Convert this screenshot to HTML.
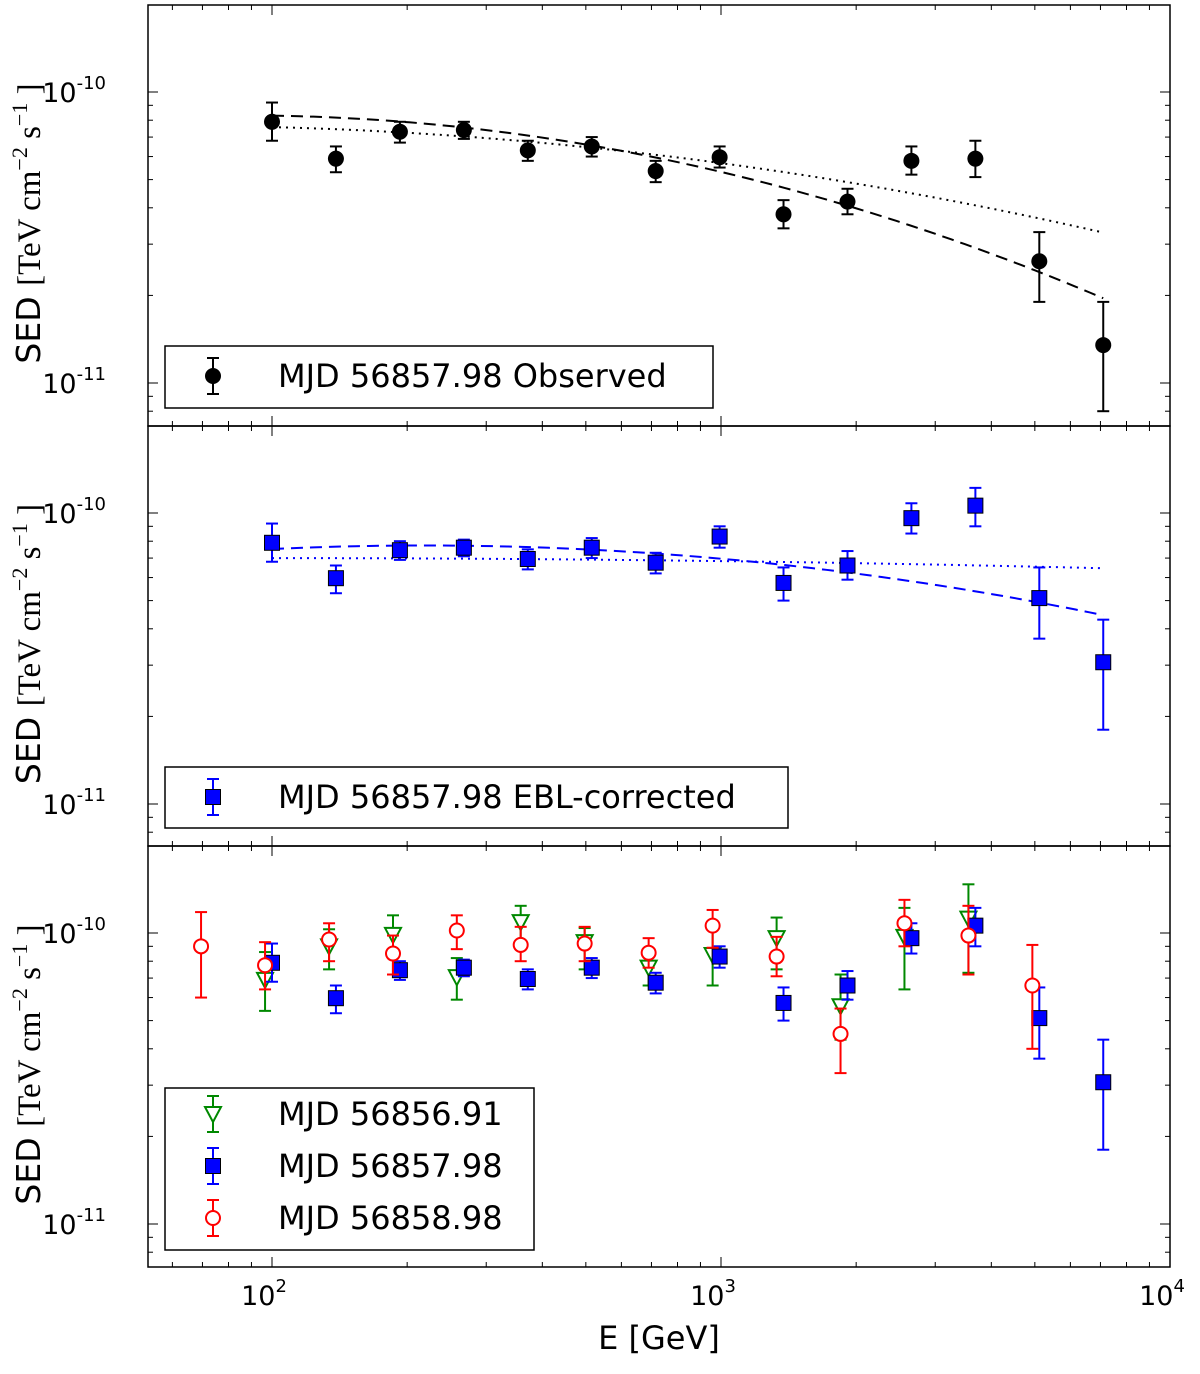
<!DOCTYPE html>
<html><head><meta charset="utf-8"><style>
html,body{margin:0;padding:0;background:#fff}
svg text{font-family:"DejaVu Sans","Liberation Sans",sans-serif}
</style></head><body>
<svg id="c" width="1200" height="1369" viewBox="0 0 1200 1369" xmlns="http://www.w3.org/2000/svg"></svg>
<script>
// ---- data ----
const eBlue = [100,138.8,192.7,267.5,371.3,515.4,715.4,993,1378,1913,2655,3686,5116,7101];
const obsVal = [7.9,5.9,7.3,7.4,6.3,6.5,5.35,5.97,3.8,4.2,5.8,5.9,2.62,1.35];
const obsLo  = [6.8,5.3,6.7,6.9,5.8,6.0,4.9,5.5,3.4,3.8,5.2,5.1,1.9,0.8];
const obsHi  = [9.2,6.5,7.9,7.9,6.8,7.0,5.8,6.5,4.25,4.65,6.5,6.8,3.3,1.9];
const ebVal = [7.9,5.97,7.45,7.6,6.95,7.6,6.75,8.3,5.75,6.6,9.6,10.6,5.1,3.07];
const ebLo  = [6.8,5.3,6.9,7.1,6.4,7.0,6.2,7.6,5.0,5.9,8.5,9.0,3.7,1.8];
const ebHi  = [9.2,6.6,8.0,8.1,7.5,8.2,7.3,9.0,6.5,7.4,10.8,12.2,6.5,4.3];
const eGreen = [96.5,134,186,258,358,497,690,958,1330,1846,2562,3557];
const grVal = [6.9,9.0,9.85,7.05,10.9,9.3,7.6,8.4,9.6,5.6,9.7,11.2];
const grLo  = [5.4,7.5,8.2,5.9,9.4,7.5,6.6,6.6,7.5,4.3,6.4,7.3];
const grHi  = [8.6,10.3,11.5,8.2,12.4,10.4,8.5,10.8,11.3,7.2,12.2,14.7];
const eRed = [69.5,96.5,134,186,258,358,497,690,958,1330,1846,2562,3557,4937];
const rdVal = [9.0,7.75,9.5,8.5,10.2,9.1,9.2,8.55,10.6,8.3,4.5,10.8,9.8,6.6];
const rdLo  = [6.0,6.4,8.0,7.2,8.8,8.0,8.0,7.6,8.9,7.1,3.3,9.0,7.2,4.0];
const rdHi  = [11.8,9.3,10.8,9.8,11.5,10.5,10.5,9.6,12.0,9.7,5.5,13.0,12.4,9.1];
// fits: log-parabola log10F = a + b t + c t^2, t=log10(E/96.5)
const fitObsDashed = [-10.081,-0.017,-0.171];
const fitObsDotted = [-10.120,-0.0367,-0.0845];
const fitEblDashed = [-10.125,0.075,-0.105];
const fitEblDotted = [-10.155,0.0,-0.010];
const xTicks = [2,3,4];

const S = document.getElementById('c');
const NS='http://www.w3.org/2000/svg';
function mk(t,a,p){const e=document.createElementNS(NS,t);for(const k in a)e.setAttribute(k,a[k]);(p||S).appendChild(e);return e;}
const X0=148,X1=1170;
const xs=E=>272+(Math.log10(E)-2)*449;
const panels=[{top:5,bot:426,ref:92},{top:426,bot:846,ref:513},{top:846,bot:1267,ref:933}];
function ys(p,v){return p.ref-(Math.log10(v)+10)*291;}

panels.forEach((p,i)=>{
  const g=mk('g',{});
  
  
  mk('rect',{x:X0,y:p.top,width:X1-X0,height:p.bot-p.top,fill:'none',stroke:'#000','stroke-width':1.5},g);
  for(let d=-12;d<=-9;d++){for(let m=1;m<10;m++){const v=m*Math.pow(10,d);const y=ys(p,v);
    if(y<p.top+1||y>p.bot-1)continue;const L=m==1?10:5;
    mk('line',{x1:X0,x2:X0+L,y1:y,y2:y,stroke:'#000','stroke-width':1},g);
    mk('line',{x1:X1,x2:X1-L,y1:y,y2:y,stroke:'#000','stroke-width':1},g);
    if(m==1){const t=mk('text',{x:106,y:y+10,'font-size':27,'text-anchor':'end'},g);
      
      t.innerHTML='10<tspan dy="-13" font-size="18">'+d+'</tspan>';}
  }}
  for(let d=1;d<=3;d++)for(let m=1;m<10;m++){const x=xs(m*Math.pow(10,d));if(x<X0||x>X1)continue;const L=m==1?10:5;
    mk('line',{x1:x,x2:x,y1:p.bot,y2:p.bot-L,stroke:'#000'},g);mk('line',{x1:x,x2:x,y1:p.top,y2:p.top+L,stroke:'#000'},g);}
  const yl=mk('text',{transform:`translate(40,${(p.top+p.bot)/2+8}) rotate(-90)`,'text-anchor':'middle','font-size':33},g);
  
  yl.innerHTML='SED <tspan font-family="Liberation Serif, serif" font-size="33">[TeV cm<tspan dy="-13" font-size="22">−2</tspan><tspan dy="13"> s</tspan><tspan dy="-13" font-size="22">−1</tspan><tspan dy="13"> ]</tspan></tspan>';
});
xTicks.forEach(d=>{const t=mk('text',{x:xs(Math.pow(10,d))-8,y:1305,'font-size':27,'text-anchor':'middle'});
  
  t.innerHTML='10<tspan dy="-13" font-size="18">'+d+'</tspan>';});
const xl=mk('text',{x:659,y:1349,'font-size':32,'text-anchor':'middle'});

xl.textContent='E [GeV]';

function curve(p,f,dash,col,nm){let d='';for(let i=0;i<=60;i++){const lE=Math.log10(100)+(Math.log10(7101)-2)*i/60;const E=Math.pow(10,lE);
  const t=Math.log10(E/96.5);const lf=f[0]+f[1]*t+f[2]*t*t;d+=(i?'L':'M')+xs(E)+','+ys(p,Math.pow(10,lf));}
  const e=mk('path',{d,fill:'none',stroke:col,'stroke-width':2,'stroke-dasharray':dash});
  }
curve(panels[0],fitObsDashed,'12,7','#000','fit-dashed-observed');
curve(panels[0],fitObsDotted,'2,5','#000','fit-dotted-observed');
curve(panels[1],fitEblDashed,'12,7','#00f','fit-dashed-ebl');
curve(panels[1],fitEblDotted,'2,5','#00f','fit-dotted-ebl');

function marker(g,type,x,y,col){
  if(type=='circle')mk('circle',{cx:x,cy:y,r:8,fill:'#000'},g);
  else if(type=='square')mk('rect',{x:x-7.5,y:y-7.5,width:15,height:15,fill:'#00f',stroke:'#000','stroke-width':1},g);
  else if(type=='tri')mk('path',{d:`M${x-8},${y-7}L${x+8},${y-7}L${x},${y+8}Z`,fill:'#fff',stroke:col,'stroke-width':2},g);
  else if(type=='ocircle')mk('circle',{cx:x,cy:y,r:7,fill:'#fff',stroke:col,'stroke-width':2},g);
}
function series(p,E,V,L,H,type,col,nm){
  E.forEach((e,i)=>{const g=mk('g',{});
    
    const x=xs(e),y1=ys(p,L[i]*1e-11),y2=ys(p,H[i]*1e-11);
    mk('line',{x1:x,x2:x,y1:y1,y2:y2,stroke:col,'stroke-width':2},g);
    mk('line',{x1:x-6,x2:x+6,y1:y1,y2:y1,stroke:col,'stroke-width':2},g);
    mk('line',{x1:x-6,x2:x+6,y1:y2,y2:y2,stroke:col,'stroke-width':2},g);
    marker(g,type,x,ys(p,V[i]*1e-11),col);});
}
series(panels[0],eBlue,obsVal,obsLo,obsHi,'circle','#000','observed');
series(panels[1],eBlue,ebVal,ebLo,ebHi,'square','#00f','ebl-corrected');
series(panels[2],eGreen,grVal,grLo,grHi,'tri','#080','mjd-56856');
series(panels[2],eBlue,ebVal,ebLo,ebHi,'square','#00f','mjd-56857');
series(panels[2],eRed,rdVal,rdLo,rdHi,'ocircle','#f00','mjd-56858');

function legend(x,y,w,h,entries){const g=mk('g',{});
  
  mk('rect',{x,y,width:w,height:h,fill:'#fff',stroke:'#000','stroke-width':1.5},g);
  entries.forEach((en,i)=>{const cy=y+(entries.length>1?26:30)+i*52;const mx=x+48;const c=en[1]=='square'?'#00f':en[2];
    mk('line',{x1:mx,x2:mx,y1:cy-18,y2:cy+18,stroke:c,'stroke-width':2},g);
    mk('line',{x1:mx-6,x2:mx+6,y1:cy-18,y2:cy-18,stroke:c,'stroke-width':2},g);
    mk('line',{x1:mx-6,x2:mx+6,y1:cy+18,y2:cy+18,stroke:c,'stroke-width':2},g);
    marker(g,en[1],mx,cy,en[2]);
    const t=mk('text',{x:x+113,y:cy+11,'font-size':32},g);
    
    t.textContent=en[0];});}
legend(165,346,548,62,[['MJD 56857.98 Observed','circle','#000']]);
legend(165,767,623,61,[['MJD 56857.98 EBL-corrected','square','#00f']]);
legend(165,1088,369,162,[['MJD 56856.91','tri','#080'],['MJD 56857.98','square','#00f'],['MJD 56858.98','ocircle','#f00']]);
</script>
</body></html>
